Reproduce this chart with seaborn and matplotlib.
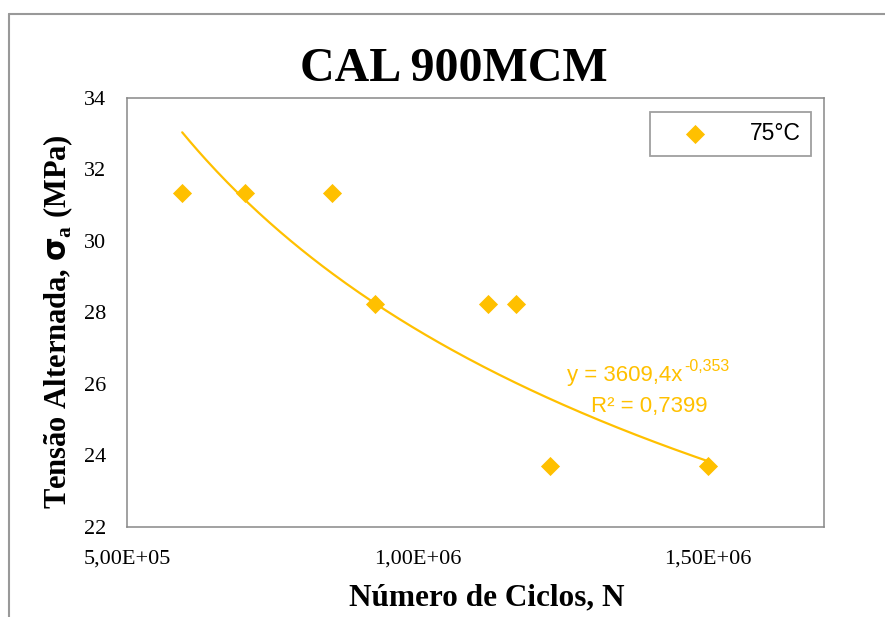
import numpy as np
import pandas as pd
import matplotlib
matplotlib.use("Agg")
import matplotlib.pyplot as plt
import seaborn as sns
from matplotlib.ticker import FuncFormatter
from matplotlib.lines import Line2D

# data
ciclos = [595000, 703000, 853000, 926000, 1122000, 1169000, 1228000, 1500000]
tensao = [31.35, 31.35, 31.35, 28.25, 28.25, 28.25, 23.7, 23.7]
serie = "75°C"

# power trendline given on the chart: y = 3609,4 x^-0,353
coef_a = 3609.4
coef_b = -0.353
r2 = 0.7399

df = pd.DataFrame({"N": ciclos, "sigma": tensao})
df["serie"] = serie

x_fit = np.linspace(min(ciclos), max(ciclos), 200)
fit = pd.DataFrame({"N": x_fit, "sigma": coef_a * x_fit ** coef_b})

sns.set_style("white")
plt.rcParams["font.family"] = ["Liberation Serif", "DejaVu Serif"]
plt.rcParams["text.color"] = "black"
plt.rcParams["mathtext.fontset"] = "custom"
plt.rcParams["mathtext.rm"] = "Liberation Serif:bold"
plt.rcParams["mathtext.it"] = "DejaVu Sans:bold"
plt.rcParams["mathtext.bf"] = "Liberation Serif:bold"

gold = "#FFC000"
gray = "#888888"

fig = plt.figure(figsize=(8.85, 6.17), dpi=100)
ax = fig.add_axes([0.1435, 0.1459, 0.788, 0.6953])

sns.lineplot(data=fit, x="N", y="sigma", color=gold, linewidth=1.6, ax=ax, legend=False)
sns.scatterplot(data=df, x="N", y="sigma", marker="D", s=95, color=gold,
                linewidth=0, ax=ax, label=serie, zorder=3)

ax.set_xlim(5e5, 1.7e6)
ax.set_ylim(22, 34)
ax.set_xticks([5e5, 1e6, 1.5e6])
ax.set_yticks(range(22, 35, 2))
ax.xaxis.set_major_formatter(FuncFormatter(lambda v, p: f"{v:.2E}".replace(".", ",")))
ax.tick_params(axis="both", length=0, labelsize=16, colors="black")
ax.tick_params(axis="y", pad=15)
ax.tick_params(axis="x", pad=16)
ax.set_xlabel("")
ax.set_ylabel("")
for sp in ax.spines.values():
    sp.set_color(gray)
    sp.set_linewidth(1.1)

leg = ax.legend(loc="upper right", bbox_to_anchor=(0.981, 0.967), borderaxespad=0,
                frameon=True, fancybox=False, edgecolor=gray, handlelength=3.0,
                handletextpad=0.9, borderpad=0.45, labelcolor="black",
                prop={"family": "Liberation Sans", "size": 16.5})
leg.get_frame().set_linewidth(1.3)

# trendline equation
ax.text(0.796, 0.352, "y = 3609,4x", transform=ax.transAxes, ha="right", va="center",
        color=gold, fontsize=16, family="Liberation Sans")
ax.text(0.799, 0.373, "-0,353", transform=ax.transAxes, ha="left", va="center",
        color=gold, fontsize=11.5, family="Liberation Sans")
ax.text(0.749, 0.282, f"R² = {r2:.4f}".replace(".", ","), transform=ax.transAxes,
        ha="center", va="center", color=gold, fontsize=16, family="Liberation Sans")

fig.text(0.513, 0.888, "CAL 900MCM", ha="center", va="center",
         fontsize=34.5, fontweight="bold")
fig.text(0.550, 0.031, "Número de Ciclos, N", ha="center", va="center",
         fontsize=22.5, fontweight="bold")
fig.text(0.066, 0.478, r"Tensão Alternada, $\sigma_{\mathrm{a}}$ (MPa)", ha="center",
         va="center", rotation=90, fontsize=22, fontweight="bold")

# outer chart frame
fig.add_artist(Line2D([9 / 885, 9 / 885], [0, 1 - 14 / 617], transform=fig.transFigure,
                      color="#999999", linewidth=1.5))
fig.add_artist(Line2D([9 / 885, 1], [1 - 14 / 617, 1 - 14 / 617], transform=fig.transFigure,
                      color="#999999", linewidth=1.5))

fig.savefig("out.png", dpi=100)
